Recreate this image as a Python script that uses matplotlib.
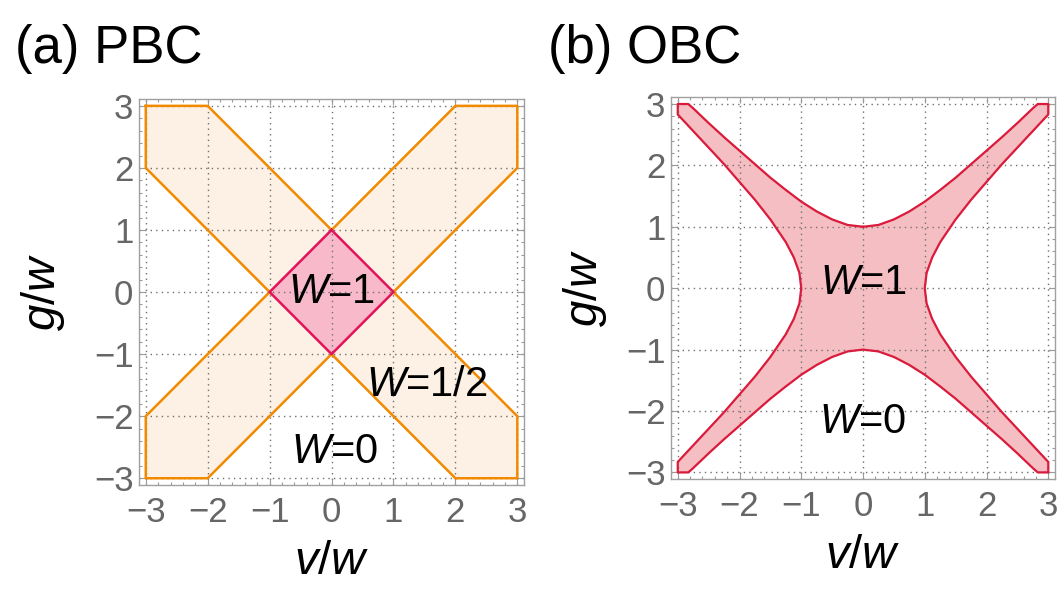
import numpy as np
import matplotlib
matplotlib.use('Agg')
import matplotlib.pyplot as plt
from matplotlib.ticker import MultipleLocator

plt.rcParams['font.family'] = ['Liberation Sans', 'DejaVu Sans']
plt.rcParams['mathtext.fontset'] = 'custom'
plt.rcParams['mathtext.it'] = 'Liberation Sans:italic'
plt.rcParams['mathtext.rm'] = 'Liberation Sans'

# (a) PBC: outline of the W=1/2 cross and the W=1 diamond
cross_v = [-3, -2, 0, 2, 3, 3, 1, 3, 3, 2, 0, -2, -3, -3, -1, -3]
cross_g = [3, 3, 1, 3, 3, 2, 0, -2, -3, -3, -1, -3, -3, -2, 0, 2]
diamond_v = [0, 1, 0, -1]
diamond_g = [1, 0, -1, 0]

# (b) OBC: boundary of the W=1 region, first quadrant
outer_v = [0.0, 0.25, 0.5, 0.75, 1.0, 1.25, 1.5, 1.75, 2.0, 2.25, 2.5, 2.75, 2.83, 3.0]
outer_g = [1.0, 1.03, 1.12, 1.25, 1.41, 1.60, 1.80, 2.02, 2.24, 2.46, 2.69, 2.93, 3.0, 3.0]
inner_v = [3.0, 2.75, 2.5, 2.25, 2.0, 1.75, 1.5, 1.25, 1.12, 1.03, 1.0]
inner_g = [2.83, 2.56, 2.29, 2.02, 1.73, 1.44, 1.12, 0.75, 0.5, 0.25, 0.0]

ticks = [-3, -2, -1, 0, 1, 2, 3]
lim = 3.11

orange = '#F28A00'
orange_fill = '#FDF0E4'
pink_edge = '#E3135A'
pink_fill = '#F8BACB'
red_edge = '#DA1B3C'
red_fill = '#F5BEC3'

fig = plt.figure(figsize=(10.64, 5.93), dpi=100)
ax1 = fig.add_axes([0.1306, 0.182, 0.362, 0.651])
ax2 = fig.add_axes([0.6306, 0.192, 0.361, 0.644])


def style(ax):
    ax.set_xlim(-lim, lim)
    ax.set_ylim(-lim, lim)
    ax.set_xticks(ticks)
    ax.set_yticks(ticks)
    ax.set_xticklabels(['\u2212%d' % -t if t < 0 else str(t) for t in ticks])
    ax.set_yticklabels(['\u2212%d' % -t if t < 0 else str(t) for t in ticks])
    ax.xaxis.set_minor_locator(MultipleLocator(0.2))
    ax.yaxis.set_minor_locator(MultipleLocator(0.2))
    ax.tick_params(which='both', direction='in', top=True, right=True, color='#9a9a9a', width=0.8)
    ax.tick_params(which='major', length=4, labelsize=25, labelcolor='#666666')
    ax.tick_params(which='minor', length=2.5)
    ax.tick_params(axis='x', pad=8)
    ax.tick_params(axis='y', pad=4)
    for s in ax.spines.values():
        s.set_color('#a0a0a0')
        s.set_linewidth(1.0)
    ax.set_axisbelow('line')
    ax.grid(True, which='major', color='#707070', linestyle=(0, (1, 3)), linewidth=1.0)
    ax.text(0.5, -0.2, '$v/w$', transform=ax.transAxes, ha='center', va='center', fontsize=34)


style(ax1)
style(ax2)

# panel (a)
ax1.fill(cross_v, cross_g, color=orange_fill, zorder=1)
ax1.plot(cross_v + cross_v[:1], cross_g + cross_g[:1], color=orange, lw=1.8, zorder=2)
ax1.fill(diamond_v, diamond_g, color=pink_fill, zorder=1.2)
ax1.plot(diamond_v + diamond_v[:1], diamond_g + diamond_g[:1], color=pink_edge, lw=1.8, zorder=2.2)
ax1.text(0.0, 0.0, '$W$=1', fontsize=30, ha='center', va='center', zorder=3)
ax1.text(1.53, -1.5, '$W$=1/2', fontsize=30, ha='center', va='center', zorder=3)
ax1.text(0.05, -2.58, '$W$=0', fontsize=30, ha='center', va='center', zorder=3)
ax1.text(-0.25, 0.5, '$g/w$', transform=ax1.transAxes, rotation=90, ha='center', va='center', fontsize=34)

# panel (b): mirror the first-quadrant boundary into the other quadrants
qv = np.array(outer_v + inner_v)
qg = np.array(outer_g + inner_g)
bv = np.concatenate([qv, qv[::-1], -qv, -qv[::-1]])
bg = np.concatenate([qg, -qg[::-1], -qg, qg[::-1]])
ax2.fill(bv, bg, color=red_fill, zorder=1)
ax2.plot(np.append(bv, bv[0]), np.append(bg, bg[0]), color=red_edge, lw=1.6, zorder=2)
ax2.text(0.0, 0.08, '$W$=1', fontsize=30, ha='center', va='center', zorder=3)
ax2.text(0.0, -2.18, '$W$=0', fontsize=30, ha='center', va='center', zorder=3)
ax2.text(-0.224, 0.5, '$g/w$', transform=ax2.transAxes, rotation=90, ha='center', va='center', fontsize=34)

fig.text(15 / 1064, 0.894, '(a) PBC', fontsize=38, ha='left', va='baseline')
fig.text(548 / 1064, 0.894, '(b) OBC', fontsize=38, ha='left', va='baseline')

fig.savefig('out.png', dpi=100)
